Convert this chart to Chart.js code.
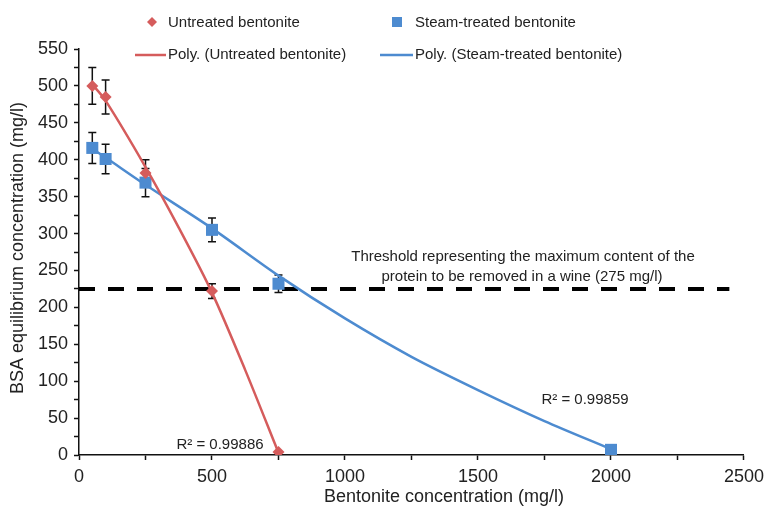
<!DOCTYPE html>
<html>
<head>
<meta charset="utf-8">
<script src="https://cdn.jsdelivr.net/npm/chart.js@4.4.1/dist/chart.umd.min.js"></script>
<style>
html, body { margin: 0; padding: 0; background: #fff; }
#wrap { width: 770px; height: 508px; }
</style>
</head>
<body>
<div id="wrap"><canvas id="chart"></canvas></div>
<script>
// Untreated bentonite: dose (mg/l), BSA left (mg/l), error
var untreatedDoses = [50, 100, 250, 500, 750];
var untreatedBSA = [500, 485, 382, 222, 4];
var untreatedErr = [25, 23, 18, 10, 0];

// Steam-treated bentonite
var steamDoses = [50, 100, 250, 500, 750, 2000];
var steamBSA = [416, 401, 369, 305, 232, 7];
var steamErr = [21, 20, 19, 16, 12, 0];

// poly trendlines
var untreatedTrendX = [50, 100, 250, 375, 500, 625, 750];
var untreatedTrendY = [502, 480, 390, 308, 220, 115, 3];
var steamTrendX = [50, 100, 250, 500, 750, 1000, 1250, 1500, 1750, 2000];
var steamTrendY = [415, 403, 366, 307, 243, 185, 133, 88, 46, 8];

// threshold line
var thresholdX = [0, 2445];
var thresholdY = [225, 225];

var xTickLabels = [0, 500, 1000, 1500, 2000, 2500];
var yTickLabels = [0, 50, 100, 150, 200, 250, 300, 350, 400, 450, 500, 550];

var FONT = '"Liberation Sans", Arial, Helvetica, sans-serif';
var RED = '#d55c5c';
var BLUE = '#4d8bd0';
var TEXT = '#222';

function pairs(xs, ys) {
    return xs.map(function(x, i) { return { x: x, y: ys[i] }; });
}

// vertical error bars with caps, drawn under the markers
var errorBars = {
    id: 'errorBars',
    beforeDatasetsDraw: function(chart) {
        var ctx = chart.ctx, sx = chart.scales.x, sy = chart.scales.y;
        ctx.save();
        ctx.strokeStyle = '#111';
        ctx.lineWidth = 1.5;
        chart.data.datasets.forEach(function(ds) {
            if (!ds.errors) return;
            ds.data.forEach(function(p, i) {
                var e = ds.errors[i];
                if (!e) return;
                var px = sx.getPixelForValue(p.x);
                var top = sy.getPixelForValue(p.y + e);
                var bot = sy.getPixelForValue(p.y - e);
                ctx.beginPath();
                ctx.moveTo(px, top); ctx.lineTo(px, bot);
                ctx.moveTo(px - 4, top); ctx.lineTo(px + 4, top);
                ctx.moveTo(px - 4, bot); ctx.lineTo(px + 4, bot);
                ctx.stroke();
            });
        });
        ctx.restore();
    }
};

// legend + text annotations
var annotations = {
    id: 'annotations',
    afterDraw: function(chart) {
        var ctx = chart.ctx;
        ctx.save();
        ctx.fillStyle = TEXT;
        ctx.textBaseline = 'middle';

        // legend
        ctx.font = '15px ' + FONT;
        ctx.textAlign = 'left';
        ctx.fillStyle = RED;
        ctx.beginPath();
        ctx.moveTo(152, 17); ctx.lineTo(157, 22); ctx.lineTo(152, 27); ctx.lineTo(147, 22);
        ctx.closePath(); ctx.fill();
        ctx.fillStyle = BLUE;
        ctx.fillRect(392, 17, 10, 10);
        ctx.lineWidth = 2.5;
        ctx.strokeStyle = RED;
        ctx.beginPath(); ctx.moveTo(135, 55); ctx.lineTo(166, 55); ctx.stroke();
        ctx.strokeStyle = BLUE;
        ctx.beginPath(); ctx.moveTo(380, 55); ctx.lineTo(413, 55); ctx.stroke();
        ctx.fillStyle = TEXT;
        ctx.fillText('Untreated bentonite', 168, 23);
        ctx.fillText('Steam-treated bentonite', 415, 23);
        ctx.fillText('Poly. (Untreated bentonite)', 168, 55);
        ctx.fillText('Poly. (Steam-treated bentonite)', 415, 55);

        // threshold note
        ctx.textAlign = 'center';
        ctx.fillText('Threshold representing the maximum content of the', 523, 257);
        ctx.fillText('protein to be removed in a wine (275 mg/l)', 522, 277);

        // R squared
        ctx.fillText('R\u00b2 = 0.99886', 220, 445);
        ctx.fillText('R\u00b2 = 0.99859', 585, 400);

        // axis titles
        ctx.font = '18px ' + FONT;
        ctx.fillText('Bentonite concentration (mg/l)', 444, 497);
        ctx.translate(18, 248);
        ctx.rotate(-Math.PI / 2);
        ctx.fillText('BSA equilibrium concentration (mg/l)', 0, 0);
        ctx.restore();
    }
};

new Chart(document.getElementById('chart'), {
    type: 'scatter',
    data: {
        datasets: [{
            label: 'Untreated bentonite',
            data: pairs(untreatedDoses, untreatedBSA),
            errors: untreatedErr,
            pointStyle: 'rectRot',
            pointRadius: 6,
            backgroundColor: RED,
            borderColor: RED,
            borderWidth: 0,
            order: 1
        }, {
            label: 'Steam-treated bentonite',
            data: pairs(steamDoses, steamBSA),
            errors: steamErr,
            pointStyle: 'rect',
            pointRadius: 8.5,
            backgroundColor: BLUE,
            borderColor: BLUE,
            borderWidth: 0,
            order: 1
        }, {
            type: 'line',
            label: 'Poly. (Untreated bentonite)',
            data: pairs(untreatedTrendX, untreatedTrendY),
            borderColor: RED,
            borderWidth: 2.5,
            pointRadius: 0,
            tension: 0.3,
            fill: false,
            order: 0
        }, {
            type: 'line',
            label: 'Poly. (Steam-treated bentonite)',
            data: pairs(steamTrendX, steamTrendY),
            borderColor: BLUE,
            borderWidth: 2.5,
            pointRadius: 0,
            tension: 0.3,
            fill: false,
            order: 0
        }, {
            type: 'line',
            label: 'Threshold',
            data: pairs(thresholdX, thresholdY),
            borderColor: '#000',
            borderWidth: 4,
            borderDash: [16, 13],
            pointRadius: 0,
            fill: false,
            order: 2
        }]
    },
    options: {
        responsive: true,
        maintainAspectRatio: false,
        animation: false,
        layout: { padding: { top: 49, right: 24, left: 0, bottom: 0 } },
        plugins: {
            legend: { display: false },
            tooltip: { enabled: false }
        },
        scales: {
            x: {
                type: 'linear',
                min: 0,
                max: 2500,
                afterFit: function(scale) { scale.height = 53; },
                ticks: {
                    stepSize: 250,
                    autoSkip: false,
                    maxRotation: 0,
                    padding: 6,
                    color: TEXT,
                    font: { size: 18, family: FONT },
                    callback: function(v) { return xTickLabels.indexOf(v) >= 0 ? String(v) : ''; }
                },
                grid: { drawOnChartArea: false, tickLength: 5, tickColor: '#111', tickWidth: 1.5 },
                border: { color: '#111', width: 1.5 }
            },
            y: {
                min: 0,
                max: 550,
                afterFit: function(scale) { scale.width = 79; },
                ticks: {
                    stepSize: 25,
                    autoSkip: false,
                    padding: 6,
                    color: TEXT,
                    font: { size: 18, family: FONT },
                    callback: function(v) { return yTickLabels.indexOf(v) >= 0 ? String(v) : ''; }
                },
                grid: { drawOnChartArea: false, tickLength: 5, tickColor: '#111', tickWidth: 1.5 },
                border: { color: '#111', width: 1.5 }
            }
        }
    },
    plugins: [errorBars, annotations]
});
</script>
</body>
</html>
